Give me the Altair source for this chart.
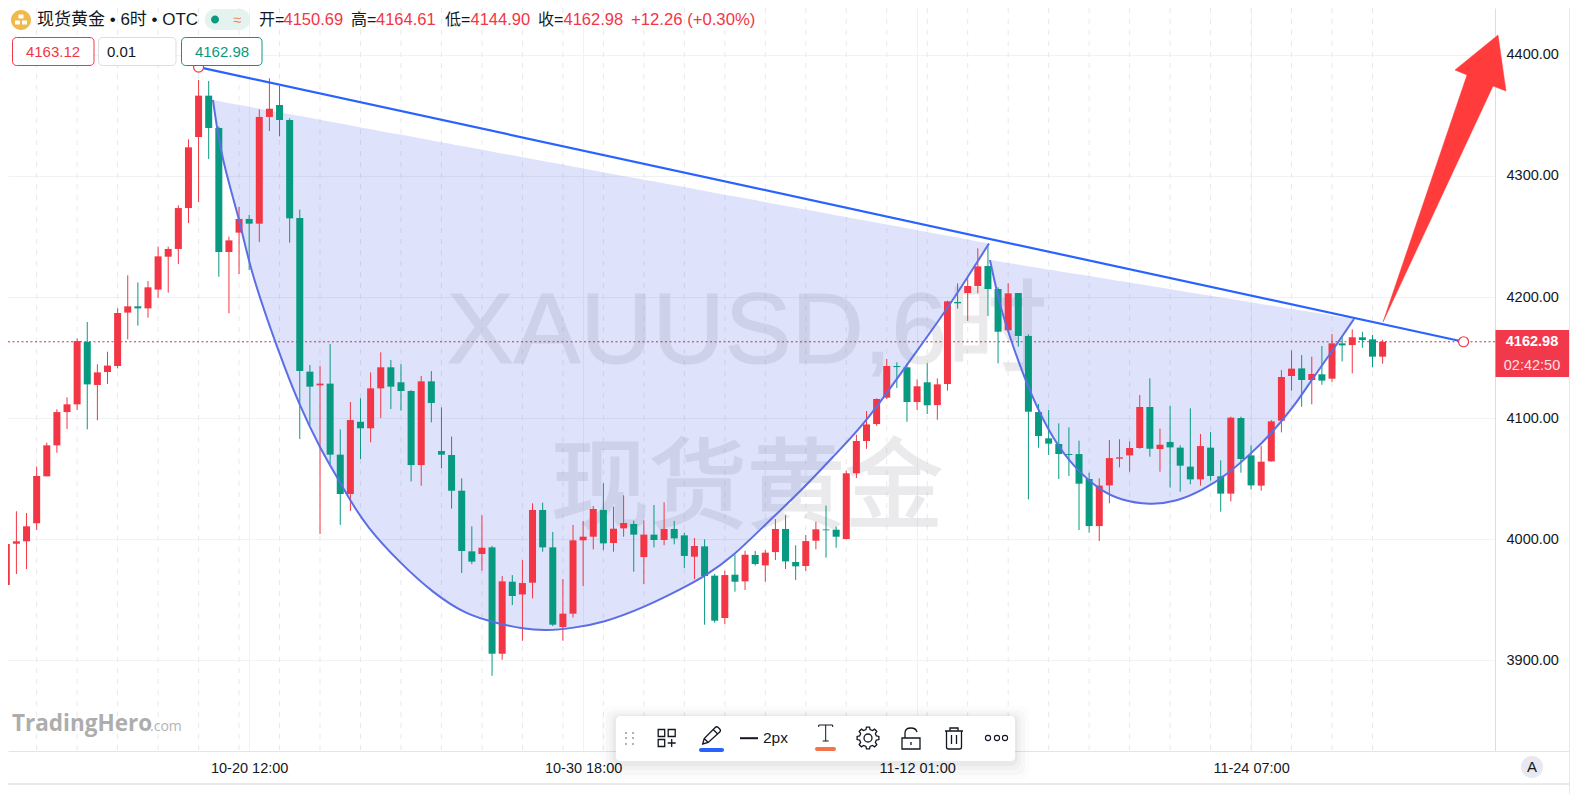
import math
import altair as alt
import pandas as pd

FONT = "Liberation Sans, Noto Sans CJK SC"
RED = "#f23645"
GREEN = "#089981"
INK = "#131722"
BLUE = "#2962ff"

# ---- candles -----
opens = [3962.0,3996.1,3998.1,4013.0,4051.8,4077.4,4104.9,4111.3,4163.0,4127.3,4138.0,4143.0,4187.1,4192.3,4190.6,4206.1,4233.3,4239.7,4273.5,4332.2,
 4366.4,4339.7,4237.2,4253.2,4264.5,4260.6,4348.8,4358.7,4346.3,4265.3,4138.3,4127.0,4128.4,4069.7,4037.2,4096.9,4091.5,4124.5,4141.9,4129.5,
 4122.3,4061.1,4130.3,4072.7,4069.4,4039.9,3989.8,3987.6,3993.1,3905.2,3964.7,3954.2,3963.9,4024.0,3993.1,3927.3,3938.3,3998.9,4001.9,4024.0,
 3996.7,4008.8,4012.4,3985.1,4003.6,3999.2,4008.3,4003.0,3985.4,3993.9,3969.7,3934.7,3970.5,3965.0,3986.8,3978.2,3989.2,4008.3,3981.0,3977.7,
 3998.6,4007.9,4007.7,4000.0,4054.3,4081.0,4095.0,4116.8,4143.0,4141.9,4113.2,4129.5,4110.7,4128.1,4195.9,4203.3,4209.1,4225.6,4206.6,4172.5,
 4203.3,4167.8,4104.9,4083.2,4078.5,4070.2,4070.2,4049.6,4010.7,4044.3,4066.4,4069.1,4075.2,4109.1,4074.4,4080.2,4075.5,4059.8,4049.3,4075.5,
 4051.8,4037.5,4100.0,4069.1,4044.1,4064.2,4097.8,4134.7,4141.0,4131.4,4136.1,4132.5,4161.7,4160.3,4166.7,4165.0,4150.69]
highs = [4006.6,4022.9,4021.5,4059.8,4079.6,4107.2,4117.1,4165.8,4179.3,4144.4,4154.8,4190.6,4217.9,4212.1,4213.2,4241.6,4241.6,4275.8,4330.3,4379.3,
 4378.5,4340.8,4249.9,4274.4,4267.8,4355.1,4380.7,4374.4,4347.7,4272.2,4143.8,4143.0,4161.2,4090.6,4113.2,4116.3,4137.7,4154.3,4147.9,4144.4,
 4123.1,4134.7,4138.8,4108.8,4084.6,4050.1,4010.5,4019.6,3994.2,3969.4,3970.2,3982.6,4029.5,4030.0,4005.8,3966.9,4011.6,4014.9,4027.3,4046.0,
 4026.7,4036.1,4015.1,4015.4,4028.1,4030.3,4014.9,4005.2,4000.8,3999.7,3971.1,3973.8,3987.0,3990.3,3990.1,3990.9,4016.5,4019.6,3994.8,4003.3,
 4014.3,4027.6,4010.2,4056.5,4086.2,4105.8,4116.2,4148.8,4146.0,4145.2,4131.9,4145.2,4132.8,4197.0,4211.3,4216.8,4240.2,4243.8,4208.0,4211.3,
 4203.3,4169.1,4111.5,4106.6,4095.6,4092.3,4081.2,4054.8,4050.1,4081.8,4082.4,4080.7,4119.0,4132.8,4091.2,4109.9,4077.4,4108.0,4086.8,4088.4,
 4065.0,4101.1,4101.1,4077.4,4076.9,4098.3,4139.7,4155.9,4152.0,4150.7,4159.5,4169.4,4167.2,4173.3,4171.3,4168.6,4164.61]
lows = [3946.8,3971.1,3975.2,4007.4,4051.8,4071.3,4090.9,4106.6,4090.6,4098.1,4128.1,4141.0,4165.0,4176.3,4182.9,4199.4,4203.6,4227.3,4261.1,4278.5,
 4314.0,4216.8,4186.5,4219.0,4222.3,4245.4,4337.2,4332.8,4244.9,4082.6,4094.2,4004.1,4062.0,4011.6,4023.1,4066.1,4079.9,4100.0,4107.4,4106.1,
 4047.6,4044.1,4096.4,4058.4,4025.1,3971.9,3979.3,3973.8,3887.0,3900.3,3945.4,3915.9,3950.9,3989.5,3928.1,3915.9,3935.2,3961.1,3991.5,3990.9,
 3989.5,4001.9,3973.0,3962.8,3993.1,3994.8,3995.6,3976.0,3966.7,3929.2,3930.8,3929.7,3956.5,3957.8,3978.0,3964.7,3982.6,3975.2,3966.1,3973.6,
 3991.5,3984.6,3992.8,3999.7,4050.4,4074.6,4093.6,4115.7,4124.8,4096.9,4106.6,4103.3,4098.6,4122.6,4190.4,4180.2,4203.0,4184.3,4145.2,4172.5,
 4158.9,4032.8,4075.5,4069.4,4049.6,4052.0,4007.4,4005.2,3998.3,4029.5,4059.2,4055.6,4074.6,4068.0,4055.6,4042.4,4039.1,4045.2,4044.1,4048.2,
 4022.6,4031.1,4054.8,4041.0,4039.9,4063.9,4088.1,4122.6,4109.3,4111.3,4127.5,4129.8,4146.8,4136.9,4158.1,4141.9,4144.90]
closes = [3995.9,3998.1,4010.5,4052.1,4077.4,4104.9,4111.3,4163.6,4127.8,4137.7,4143.3,4186.8,4192.3,4190.6,4208.0,4233.6,4239.7,4273.5,4323.7,4366.4,
 4339.7,4237.2,4246.8,4264.5,4260.6,4348.8,4355.6,4346.3,4265.0,4138.8,4125.9,4128.4,4069.7,4037.2,4098.3,4091.5,4124.5,4141.9,4125.9,4122.3,
 4061.1,4130.3,4112.4,4069.7,4039.9,3990.1,3981.3,3992.8,3905.2,3965.0,3952.9,3963.6,4024.0,3993.1,3929.2,3938.3,3998.9,4001.9,4024.8,3996.4,
 4008.5,4013.2,4003.6,4003.6,3999.2,4008.3,4000.5,3986.0,3994.2,3969.4,3932.5,3970.2,3964.7,3987.0,3979.3,3988.7,4008.3,3981.5,3977.4,3998.3,
 4008.0,4007.2,4001.9,4054.3,4081.0,4094.7,4115.7,4143.0,4142.1,4113.2,4126.2,4110.5,4127.8,4196.4,4194.8,4209.1,4225.3,4206.6,4171.3,4203.0,
 4167.8,4105.2,4085.1,4078.8,4070.2,4069.4,4045.7,4010.7,4044.1,4066.9,4067.5,4075.2,4109.1,4074.6,4077.9,4075.7,4060.6,4049.3,4076.8,4052.1,
 4037.5,4100.3,4066.1,4044.3,4063.9,4097.2,4133.9,4140.8,4131.4,4136.4,4130.9,4161.7,4160.0,4166.7,4164.4,4150.7,4162.98]

# ---- cup arc (left) -----
arc1_i = [20.42,21.28,23.09,24.08,27.05,29.02,31.0,32.65,33.96,35.61,38.90,42.16,45.49,48.46,51.06,53.40,56.0,58.96,62.91,66.87,69.04,71.81,75.14,78.43,81.69,85.02,88.97,92.93,95.89,97.10]
arc1_low = [4362.8,4313.2,4263.6,4222.3,4151.2,4109.3,4075.2,4051.5,4032.2,4010.2,3980.2,3955.4,3937.2,3930.6,3925.6,3924.2,3926.4,3930.8,3943.0,3959.5,3969.4,3985.4,4013.2,4038.8,4068.0,4096.9,4143.8,4189.3,4228.1,4244.2]
arc1_top = [4362.8,4361.5,4358.7,4357.1,4352.5,4349.5,4346.4,4343.9,4341.9,4339.3,4334.2,4329.2,4324.0,4319.4,4315.4,4311.8,4307.8,4303.2,4297.1,4291.0,4287.6,4283.3,4278.2,4273.1,4268.0,4262.9,4256.8,4250.7,4246.1,4244.2]
# ---- handle arc (right) -----
arc2_i = [97.2,98.19,99.48,101.16,103.43,105.77,108.07,110.05,113.01,115.65,118.25,120.59,123.06,124.87,127.14,129.12,131.09,133.17]
arc2_low = [4230.6,4192.0,4158.9,4120.7,4081.8,4057.0,4040.5,4032.2,4028.1,4030.8,4040.5,4052.9,4071.1,4086.0,4108.3,4133.1,4156.2,4181.8]
arc2_top = [4230.6,4229.3,4227.5,4225.2,4222.1,4219.0,4215.9,4213.2,4209.2,4205.6,4202.1,4198.9,4195.5,4193.1,4190.0,4187.3,4184.6,4181.8]
# ---- trend line -----
trend_i = [19, 144]
trend_p = [4390, 4163]

last_close = 4162.98
price_ticks = [3900, 4000, 4100, 4200, 4300, 4400]
time_ticks = [24, 57, 90, 123]
time_labels = ["10-20 12:00", "10-30 18:00", "11-12 01:00", "11-24 07:00"]
dashed_ticks = list(range(3, 136, 4))

idx = list(range(len(opens)))
candles = pd.DataFrame({
    "i": idx, "open": opens, "high": highs, "low": lows, "close": closes,
    "top": [max(a, b) for a, b in zip(opens, closes)],
    "bot": [min(a, b) for a, b in zip(opens, closes)],
    "dir": ["up" if c >= o else "down" for o, c in zip(opens, closes)],
})

label_expr = "{" + ",".join(f"{t}:'{l}'" for t, l in zip(time_ticks, time_labels)) + "}[datum.value]"

XS = alt.Scale(domain=[0.168, 147.105], nice=False, zero=False, padding=0)
YS = alt.Scale(domain=[3824.8, 4438.84], nice=False, zero=False, padding=0)
CS = alt.Scale(domain=["up", "down"], range=[RED, GREEN])
AX = alt.Axis(values=time_ticks, labelExpr=label_expr, title=None, ticks=False,
              grid=True, gridColor="#f1f2f4", domainColor="#e3e4e8", labelFontSize=14.5, labelColor=INK,
              labelFont=FONT, labelPadding=10, labelFlush=False, labelOverlap=False)
AY = alt.Axis(values=price_ticks, format=".2f", orient="right", title=None, ticks=False,
              grid=True, gridColor="#f1f2f4", domainColor="#dcdde2", labelFontSize=14.5, labelColor=INK,
              labelFont=FONT, labelPadding=11, labelAlign="left", labelOverlap=False)
X = lambda f: alt.X(f, type="quantitative", scale=XS, axis=AX)
Y = lambda f: alt.Y(f, type="quantitative", scale=YS, axis=AY)
COL = alt.Color("dir:N", scale=CS, legend=None)
one = pd.DataFrame({"a": [0]})

# ---- helpers for interface furniture (page coordinates) -----
def txt(s, x, y, size=15, color=INK, align="left", weight="normal", font=FONT, baseline="middle", opacity=1.0, **extra):
    return alt.Chart(one).mark_text(text=s, align=align, baseline=baseline, fontSize=size, color=color,
                                    font=font, fontWeight=weight, opacity=opacity, **extra).encode(
        x=alt.value(x - 8), y=alt.value(y - 8))

def box(x1, y1, x2, y2, fill="transparent", stroke=None, radius=0, opacity=1.0, sw=1):
    kw = dict(fill=fill, cornerRadius=radius, opacity=opacity)
    if stroke:
        kw.update(stroke=stroke, strokeWidth=sw)
    return alt.Chart(one).mark_rect(**kw).encode(
        x=alt.value(x1 - 8), x2=alt.value(x2 - 8), y=alt.value(y1 - 8), y2=alt.value(y2 - 8))

def icon(path, x, y, stroke=INK, fill=None, sw=1.3):
    kw = dict(shape=path, size=4, opacity=1, strokeWidth=sw)
    if fill:
        kw.update(filled=True, fill=fill, stroke=stroke if stroke else fill)
    else:
        kw.update(filled=False, stroke=stroke, fill="transparent")
    return alt.Chart(one).mark_point(**kw).encode(x=alt.value(x - 8), y=alt.value(y - 8))

def circ(r):
    return f"M{r} 0 A{r} {r} 0 1 1 {-r} 0 A{r} {r} 0 1 1 {r} 0 Z"

def gear(ro=11.0, ri=8.6, teeth=8):
    pts = []
    for k in range(teeth):
        a = 2 * math.pi * k / teeth
        w = math.pi / teeth
        for r, d in ((ri, -0.62 * w), (ro, -0.36 * w), (ro, 0.36 * w), (ri, 0.62 * w)):
            pts.append((r * math.cos(a + d), r * math.sin(a + d)))
    p = "M" + " L".join(f"{x:.2f} {y:.2f}" for x, y in pts) + " Z"
    return p + " " + circ(4)

# ---- data layers -----
dashes = alt.Chart(pd.DataFrame({"i": dashed_ticks})).mark_rule(color="#e9e9ec", strokeDash=[5, 6], strokeWidth=1).encode(x=X("i"))

marks = [dashes]
marks.append(txt("XAUUSD,6时", 447, 363, size=100, color="#787b86", baseline="alphabetic", opacity=0.15,
                 stroke="#787b86", strokeWidth=1.2))
marks.append(txt("现货黄金", 747, 491, size=98, color="#787b86", align="center", opacity=0.15, font="Noto Sans CJK SC",
                 stroke="#787b86", strokeWidth=2))

a1 = pd.DataFrame({"i": arc1_i, "low": arc1_low, "top": arc1_top})
a2 = pd.DataFrame({"i": arc2_i, "low": arc2_low, "top": arc2_top})
for a in (a1, a2):
    marks.append(alt.Chart(a).mark_area(color="#5b6ee8", opacity=0.2, interpolate="basis").encode(
        x=X("i"), y=Y("low"), y2="top:Q"))

marks.append(alt.Chart(pd.DataFrame({"p": [last_close]})).mark_rule(color="#c4314b", strokeDash=[2, 2.5], strokeWidth=1).encode(y=Y("p")))

marks.append(alt.Chart(candles).mark_rule(strokeWidth=1).encode(x=X("i"), y=Y("low"), y2="high:Q", color=COL))
marks.append(alt.Chart(candles).mark_bar(size=7).encode(x=X("i"), y=Y("bot"), y2="top:Q", color=COL))

for a in (a1, a2):
    marks.append(alt.Chart(a).mark_line(color="#5b6ee6", strokeWidth=2, interpolate="basis").encode(x=X("i"), y=Y("low")))

tr = pd.DataFrame({"i": trend_i, "p": trend_p})
marks.append(alt.Chart(tr).mark_line(color=BLUE, strokeWidth=2.2).encode(x=X("i"), y=Y("p")))
marks.append(alt.Chart(tr).mark_point(shape="circle", size=100, filled=True, fill="white", stroke=RED, strokeWidth=1.2, opacity=1).encode(x=X("i"), y=Y("p")))

# ---- big arrow -----
ax, ay = 1444.5, 178.5
arrow_pts = [(1383, 322), (1467, 75), (1455, 70), (1498, 35), (1506, 91), (1493, 86)]
arrow = "M" + " L".join(f"{x-ax} {y-ay}" for x, y in arrow_pts) + " Z"
marks.append(icon(arrow, ax, ay, stroke="#ff3b3b", fill="#ff3b3b", sw=0.5))

# ---- header -----
marks.append(icon(circ(10), 21, 20, stroke="#f0b94a", fill="#f0b94a", sw=0))
marks.append(icon("M-2.5 -5.5 h5 v4 h-5 Z M-6 0.5 h5 v4 h-5 Z M1 0.5 h5 v4 h-5 Z", 21, 20, stroke="white", fill="white", sw=0))
marks.append(txt("现货黄金 • 6时 • OTC", 37, 20, size=17))
marks.append(box(205, 9, 250, 30, fill="#e4f3ef", radius=10))
marks.append(icon(circ(4), 215, 19.5, stroke=GREEN, fill=GREEN, sw=0))
marks.append(txt("≈", 237, 19.5, size=15, color="#f28c5a", align="center"))
ohlc = [("开=", 259, "4150.69", 283.5), ("高=", 351, "4164.61", 376), ("低=", 445, "4144.90", 470.5), ("收=", 538, "4162.98", 563.5)]
for lab, lx, val, vx in ohlc:
    marks.append(txt(lab, lx, 20, size=16))
    marks.append(txt(val, vx, 20, size=16.5, color=RED))
marks.append(txt("+12.26 (+0.30%)", 631, 20, size=16.7, color=RED))

marks.append(box(12.5, 37.5, 94, 65.5, fill="white", stroke=RED, radius=4))
marks.append(txt("4163.12", 53, 51.5, size=15, color=RED, align="center"))
marks.append(box(98.5, 37.5, 176, 65.5, fill="white", stroke="#dcdde0", radius=4))
marks.append(txt("0.01", 107, 51.5, size=15))
marks.append(box(181.5, 37.5, 262, 65.5, fill="white", stroke=GREEN, radius=4))
marks.append(txt("4162.98", 222, 51.5, size=15, color=GREEN, align="center"))

# ---- price tag -----
marks.append(box(1495.5, 330, 1569, 377, fill="#f2394c"))
marks.append(txt("4162.98", 1532, 342, size=14.5, color="white", align="center", weight="bold"))
marks.append(txt("02:42:50", 1532, 366, size=14.5, color="white", align="center", opacity=0.85))

# ---- frame bits -----
marks.append(box(1495, 751, 1569, 752, fill="#e3e4e8"))
marks.append(box(0, 783, 1569, 785, fill="#e9eaed"))
marks.append(box(1569, 0, 1571, 794, fill="#e6e8ee"))
marks.append(icon(circ(11), 1532, 767, stroke="#e8e8f0", fill="#e8e8f0", sw=0))
marks.append(txt("A", 1532, 767, size=15, align="center"))

# ---- brand -----
marks.append(txt("TradingHero", 12, 731, size=22.5, color="#adadad", weight="bold", font="Open Sans", baseline="alphabetic"))
marks.append(txt(".com", 150, 731, size=14, color="#b4b4b4", font="Open Sans", baseline="alphabetic"))

# ---- toolbar -----
for pad, off, op in ((14, 4, 0.012), (10, 4, 0.018), (6, 3, 0.025), (3, 2, 0.03)):
    marks.append(box(616 - pad, 716 - pad + off, 1015 + pad, 761 + pad + off, fill="black", radius=8, opacity=op))
marks.append(box(616, 716, 1015, 761, fill="white", radius=4))
for dx in (626, 633):
    for dy in (733, 738, 744):
        marks.append(icon(circ(1), dx, dy, stroke="#a0a0a6", fill="#a0a0a6", sw=0))
marks.append(icon("M-8.5 -8.5 h6.5 v7 h-6.5 Z M1.5 -8.5 h7 v7 h-7 Z M-8.5 1.5 h6.5 v7 h-6.5 Z M1 5 h8 M5 1 v8", 666.7, 738))
marks.append(icon("M-9 9 L-7.5 3.5 L3.5 -7.5 Q5 -9 6.5 -7.5 L8 -6 Q9.5 -4.5 8 -3 L-3.5 7.5 Z M1.5 -5.5 L6 -1 M-7.5 3.5 L-3.5 7.5", 711.7, 735))
marks.append(box(699, 748, 724, 752, fill=BLUE, radius=2))
marks.append(box(740, 737.2, 758, 739.2, fill=INK))
marks.append(txt("2px", 763, 738, size=15.5))
marks.append(icon("M-7 -6 L-7 -8 L7 -8 L7 -6 M0 -8 L0 8 M-3 8 L3 8", 825.7, 733, sw=1))
marks.append(box(815, 747, 836, 751, fill="#f4734b", radius=2))
marks.append(icon(gear(), 868, 738))
marks.append(icon("M-9 -1 h18 v11 h-18 Z M-6 -1 V-6 Q-6 -11 0 -11 Q5 -11 6 -7 M0 3 v3", 911, 739))
marks.append(icon("M-9 -7 h18 M-4 -7 v-3 h8 v3 M-7.5 -7 v16 q0 2 2 2 h11 q2 0 2 -2 v-16 M-2.5 -3 v9 M2.5 -3 v9", 954, 738))
for dx in (988, 997, 1005):
    marks.append(icon(circ(2.6), dx, 738, sw=1.1))

chart = alt.layer(*marks).properties(
    width=1487, height=743,
    autosize=alt.AutoSizeParams(type="none"),
    padding={"left": 0, "top": 0, "right": 75, "bottom": 43},
    background="white",
).configure_view(stroke=None)

chart.save("out.html", embed_options={"renderer": "svg", "actions": False})
